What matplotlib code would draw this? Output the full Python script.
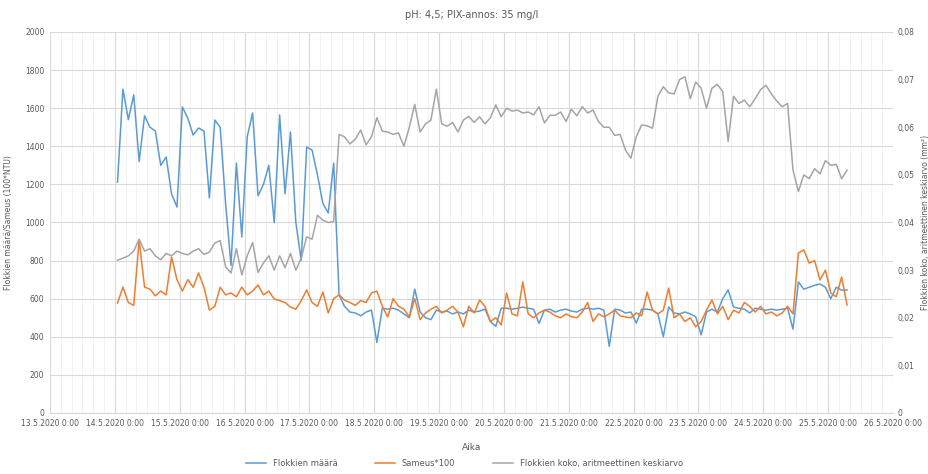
import pandas as pd
import matplotlib
matplotlib.use('Agg')
import matplotlib.pyplot as plt
import matplotlib.dates as mdates
from matplotlib.ticker import MultipleLocator, FuncFormatter

plt.rcParams['font.family'] = ['Liberation Sans Narrow', 'DejaVu Sans']

# measurements every 2 hours starting 14.5.2020 1:00
start_time = '2020-05-14 01:00'
step = '2h'

# Flokkien määrä (left axis)
flokkien_maara = [
    1212, 1700, 1540, 1670, 1320, 1560, 1500, 1480, 1300, 1344,
    1150, 1081, 1606, 1548, 1459, 1496, 1480, 1128, 1538, 1500,
    1100, 775, 1312, 924, 1450, 1575, 1140, 1200, 1300, 1000,
    1564, 1150, 1475, 1000, 800, 1396, 1380, 1250, 1100, 1050,
    1312, 620, 560, 530, 525, 510, 530, 540, 370, 550,
    545, 550, 540, 520, 500, 650, 530, 500, 490, 540,
    530, 535, 520, 530, 520, 540, 530, 535, 545, 480,
    455, 550, 550, 545, 550, 556, 550, 545, 470, 540,
    545, 530, 540, 545, 535, 530, 545, 550, 545, 550,
    540, 350, 545, 540, 525, 530, 472, 545, 545, 540,
    520, 400, 556, 525, 520, 530, 520, 505, 410, 530,
    545, 530, 600, 646, 556, 550, 545, 525, 550, 545,
    540, 545, 540, 545, 550, 440, 688, 650, 660, 670,
    677, 660, 600, 660, 645, 646]

# Sameus*100 (left axis)
sameus_100 = [
    577, 661, 580, 565, 908, 661, 650, 615, 640, 620,
    819, 700, 640, 700, 660, 735, 660, 540, 560, 660,
    620, 630, 610, 661, 620, 640, 672, 620, 640, 598,
    590, 580, 556, 545, 590, 646, 580, 560, 635, 525,
    600, 620, 593, 580, 565, 590, 580, 630, 640, 560,
    504, 600, 560, 545, 504, 600, 490, 525, 545, 560,
    525, 540, 560, 530, 452, 560, 525, 593, 560, 480,
    500, 462, 630, 520, 510, 688, 520, 500, 525, 540,
    530, 510, 500, 520, 505, 500, 530, 580, 480, 520,
    505, 520, 540, 510, 504, 500, 525, 510, 635, 540,
    520, 540, 656, 500, 520, 480, 500, 452, 480, 540,
    593, 520, 560, 490, 540, 525, 580, 560, 530, 560,
    520, 530, 510, 525, 560, 520, 840, 856, 787, 800,
    698, 750, 630, 610, 714, 567]

# Flokkien koko, aritmeettinen keskiarvo (right axis)
flokkien_koko = [
    .0321, .0325, .0330, .0340, .0365, .0340, .0345, .0330, .0322, .0335,
    .0330, .0340, .0335, .0332, .0340, .0345, .0333, .0338, .0357, .0362,
    .0307, .0294, .0345, .0290, .0330, .0358, .0295, .0315, .0330, .0300,
    .0330, .0305, .0335, .0300, .0325, .0370, .0365, .0415, .0405, .0400,
    .0402, .0585, .0580, .0565, .0575, .0594, .0563, .0580, .0620, .0592,
    .0590, .0585, .0588, .0560, .0600, .0648, .0590, .0607, .0615, .0680,
    .0607, .0602, .0610, .0590, .0615, .0623, .0610, .0622, .0607, .0620,
    .0647, .0622, .0640, .0634, .0636, .0630, .0632, .0626, .0643, .0609,
    .0625, .0625, .0632, .0612, .0638, .0624, .0643, .0630, .0636, .0612,
    .0600, .0600, .0583, .0585, .0552, .0535, .0580, .0605, .0603, .0598,
    .0665, .0685, .0672, .0670, .0700, .0706, .0660, .0695, .0682, .0640,
    .0682, .0690, .0675, .0570, .0665, .0650, .0657, .0643, .0660, .0679,
    .0688, .0670, .0655, .0643, .0650, .0510, .0465, .0500, .0492, .0513,
    .0502, .0530, .0520, .0522, .0492, .0510]

times = pd.date_range(start_time, periods=len(flokkien_maara), freq=step)

text_color = '#595959'
grid_color = '#D9D9D9'

fig = plt.figure(figsize=(9.29, 4.74), dpi=100)
ax = fig.add_axes([0.0538, 0.1287, 0.9074, 0.8038])
ax2 = ax.twinx()

l1, = ax.plot(times, flokkien_maara, color='#5B9BD5', lw=1.1, label='Flokkien määrä')
l2, = ax.plot(times, sameus_100, color='#ED7D31', lw=1.1, label='Sameus*100')
l3, = ax2.plot(times, flokkien_koko, color='#A5A5A5', lw=1.1,
               label='Flokkien koko, aritmeettinen keskiarvo')

# axes limits and ticks
ax.set_xlim(pd.Timestamp('2020-05-13'), pd.Timestamp('2020-05-26'))
ax.set_ylim(0, 2000)
ax2.set_ylim(0, 0.08)
ax.yaxis.set_major_locator(MultipleLocator(200))
ax2.yaxis.set_major_locator(MultipleLocator(0.01))
ax.xaxis.set_major_locator(mdates.DayLocator())
ax.xaxis.set_minor_locator(mdates.HourLocator(byhour=[4, 8, 12, 16, 20]))


def date_label(x, pos):
    d = mdates.num2date(x)
    return '{}.{}.{} {}:{:02d}'.format(d.day, d.month, d.year, d.hour, d.minute)


def comma_label(v, pos):
    if abs(v) < 1e-9:
        return '0'
    return '{:.2f}'.format(v).replace('.', ',')


ax.xaxis.set_major_formatter(FuncFormatter(date_label))
ax2.yaxis.set_major_formatter(FuncFormatter(comma_label))

# gridlines
ax.grid(which='major', color=grid_color, lw=0.8)
ax.grid(which='minor', axis='x', color='#F0F0F0', lw=0.6)
ax.set_axisbelow(True)

for a in (ax, ax2):
    for side in ('top', 'right', 'left'):
        a.spines[side].set_visible(False)
    a.spines['bottom'].set_color(grid_color)
    a.tick_params(length=0, labelsize=5.5, colors=text_color, pad=4)
ax.tick_params(which='minor', length=0)
ax2.tick_params(pad=3)
ax2.patch.set_visible(False)

ax.set_xlabel('Aika', fontsize=6.5, color=text_color, labelpad=11)
ax.set_ylabel('Flokkien määrä/Sameus (100*NTU)', fontsize=5.5, color=text_color, labelpad=9)
ax2.set_ylabel('Flokkien koko, aritmeettinen keskiarvo (mm²)', fontsize=5.5,
               color=text_color, labelpad=5)

fig.text(0.5075, 0.968, 'pH: 4,5; PIX-annos: 35 mg/l', ha='center', va='center',
         fontsize=7, color=text_color)

fig.legend(handles=[l1, l2, l3], loc='center', bbox_to_anchor=(0.5, 0.023), ncol=3,
           frameon=False, fontsize=6, labelcolor=text_color, handlelength=2.4,
           columnspacing=4.5)

fig.savefig('out.png', dpi=100)
